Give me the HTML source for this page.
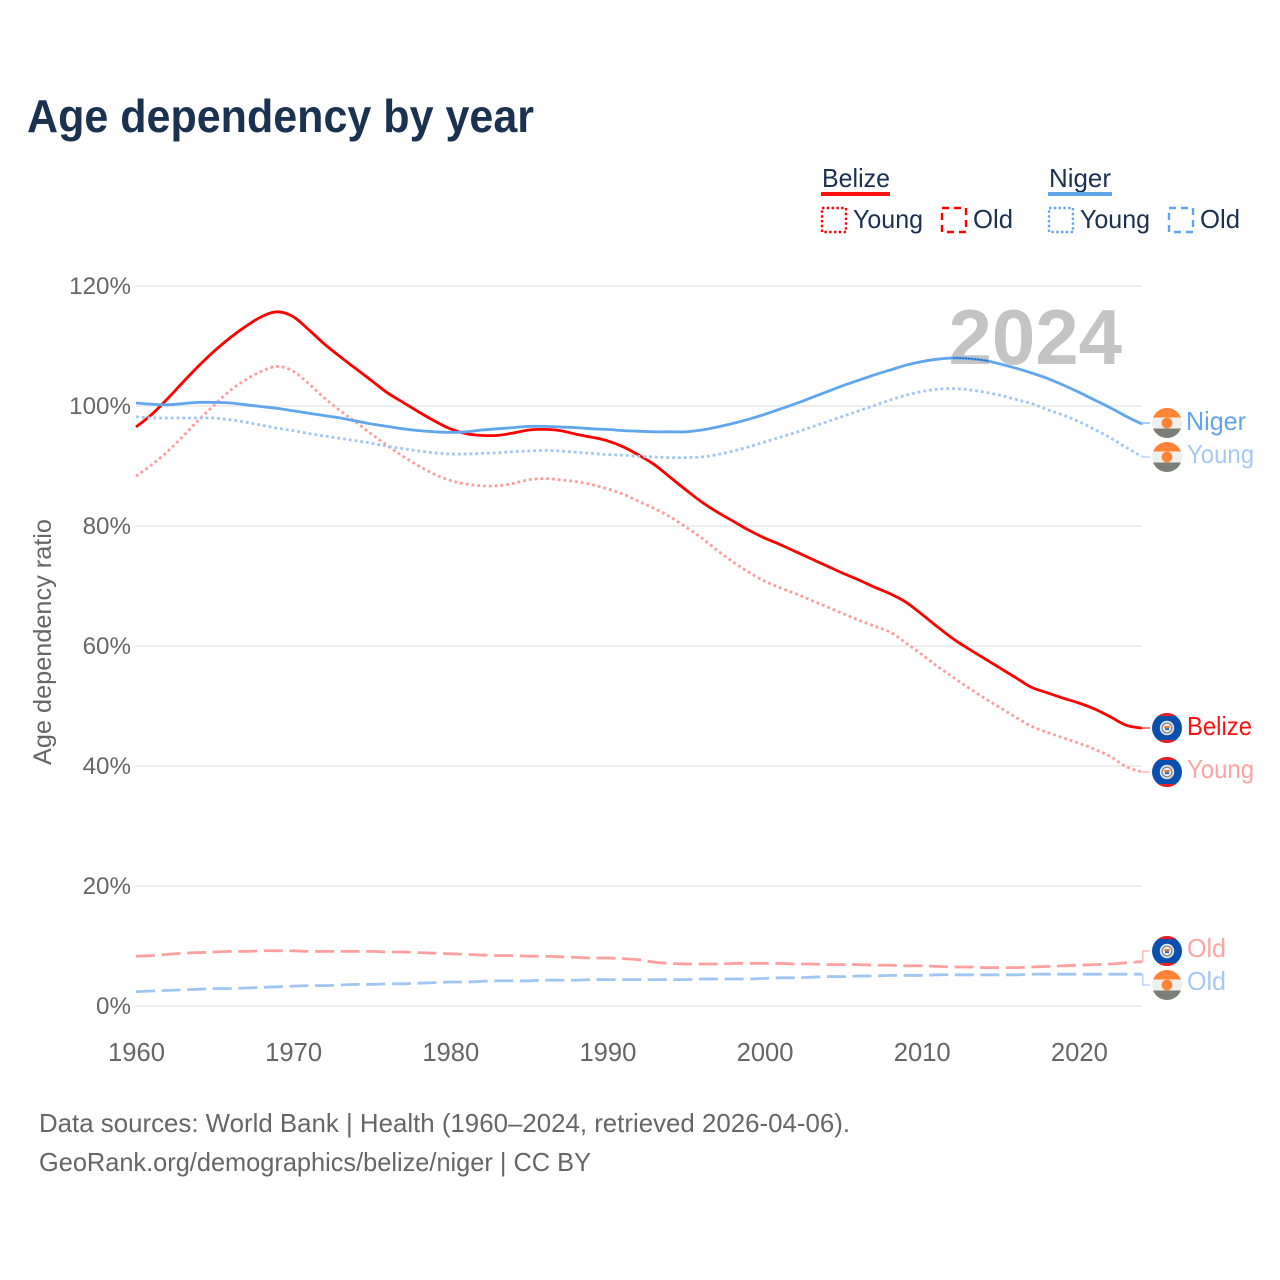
<!DOCTYPE html>
<html lang="en">
<head>
<meta charset="utf-8">
<title>Age dependency by year</title>
<style>
html,body{margin:0;padding:0;background:#fff;width:1280px;height:1280px;overflow:hidden}
svg{display:block}
text{font-family:"Liberation Sans",sans-serif}
</style>
</head>
<body>
<svg id="chart" xmlns="http://www.w3.org/2000/svg" width="1280" height="1280" viewBox="0 0 1280 1280">
  <defs>
    <clipPath id="flag-clip"><circle cx="0" cy="0" r="15"/></clipPath>
    <clipPath id="year-overlap-clip"><rect x="953" y="340" width="35" height="30"/></clipPath>
    <g id="flag-niger">
      <g clip-path="url(#flag-clip)">
        <rect x="-15" y="-15" width="30" height="30" fill="#f0f0f0"/>
        <rect x="-15" y="-15" width="30" height="9.5" fill="#ff8436"/>
        <rect x="-15" y="5.5" width="30" height="10" fill="#7c7f78"/>
        <circle cx="0" cy="0" r="5.4" fill="#ff8436"/>
      </g>
    </g>
    <g id="flag-belize">
      <g clip-path="url(#flag-clip)">
        <rect x="-15" y="-15" width="30" height="30" fill="#0b50ae"/>
        <rect x="-15" y="-15" width="30" height="3" fill="#f01c24"/>
        <rect x="-15" y="12" width="30" height="3" fill="#f01c24"/>
        <circle cx="0" cy="0" r="7.2" fill="#e4e6e8"/>
        <circle cx="0" cy="0" r="5.6" fill="#8d9296"/>
        <circle cx="0" cy="0" r="4" fill="#ffffff"/>
        <rect x="-2.8" y="-2.2" width="5.6" height="2.4" fill="#e8803a"/>
        <rect x="-2" y="0.2" width="4" height="2" fill="#2a62b8"/>
      </g>
    </g>
  </defs>

  <text x="27" y="132" font-size="46" font-weight="700" fill="#1a3150" textLength="507" lengthAdjust="spacingAndGlyphs">Age dependency by year</text>

  <g id="legend" font-size="26" fill="#1a3150">
    <text x="822" y="187" textLength="68" lengthAdjust="spacingAndGlyphs">Belize</text>
    <rect x="821" y="192" width="69" height="4" fill="#ff1111"/>
    <rect x="822" y="208" width="24" height="24" fill="none" stroke="#ff0000" stroke-width="2.4" stroke-dasharray="2.4 2.4"/>
    <text x="853" y="228" textLength="70" lengthAdjust="spacingAndGlyphs">Young</text>
    <rect x="942" y="208" width="24" height="24" fill="none" stroke="#ff0000" stroke-width="2.4" stroke-dasharray="7 5"/>
    <text x="973" y="228" textLength="40" lengthAdjust="spacingAndGlyphs">Old</text>
    <text x="1049" y="187" textLength="62" lengthAdjust="spacingAndGlyphs">Niger</text>
    <rect x="1048" y="192" width="64" height="4" fill="#61a5ec"/>
    <rect x="1049" y="208" width="24" height="24" fill="none" stroke="#61a5ec" stroke-width="2.4" stroke-dasharray="2.4 2.4"/>
    <text x="1080" y="228" textLength="70" lengthAdjust="spacingAndGlyphs">Young</text>
    <rect x="1169" y="208" width="24" height="24" fill="none" stroke="#61a5ec" stroke-width="2.4" stroke-dasharray="7 5"/>
    <text x="1200" y="228" textLength="40" lengthAdjust="spacingAndGlyphs">Old</text>
  </g>

  <g id="grid"></g>
  <g id="y-ticks"></g>
  <g id="x-ticks"></g>

  <text transform="translate(51,765) rotate(-90)" font-size="25" fill="#666666" textLength="246" lengthAdjust="spacingAndGlyphs">Age dependency ratio</text>

  <text x="1122" y="364" text-anchor="end" font-size="78" font-weight="700" fill="#c4c4c4">2024</text>

  <g id="series"></g>

  <g>
    <use href="#flag-niger" x="1167" y="423"/>
    <use href="#flag-niger" x="1167" y="457"/>
    <use href="#flag-belize" x="1167" y="728"/>
    <use href="#flag-belize" x="1167" y="772"/>
    <use href="#flag-belize" x="1167" y="951"/>
    <use href="#flag-niger" x="1167" y="985"/>
    <text x="1186" y="430" font-size="26" fill="#61a5ec" textLength="60" lengthAdjust="spacingAndGlyphs">Niger</text>
    <text x="1187" y="463" font-size="26" fill="#a5c9f3" textLength="67" lengthAdjust="spacingAndGlyphs">Young</text>
    <text x="1187" y="735" font-size="26" fill="#ff1111" textLength="65" lengthAdjust="spacingAndGlyphs">Belize</text>
    <text x="1187" y="778" font-size="26" fill="#ffa3a3" textLength="67" lengthAdjust="spacingAndGlyphs">Young</text>
    <text x="1187" y="957" font-size="26" fill="#ffa3a3" textLength="39" lengthAdjust="spacingAndGlyphs">Old</text>
    <text x="1187" y="990" font-size="26" fill="#a5c9f3" textLength="39" lengthAdjust="spacingAndGlyphs">Old</text>
  </g>

  <text x="39" y="1132" font-size="26" fill="#666666" textLength="811" lengthAdjust="spacingAndGlyphs">Data sources: World Bank | Health (1960–2024, retrieved 2026-04-06).</text>
  <text x="39" y="1171" font-size="26" fill="#666666" textLength="552" lengthAdjust="spacingAndGlyphs">GeoRank.org/demographics/belize/niger | CC BY</text>
</svg>

<script>
const firstYear = 1960;
const yTickValues = [0, 20, 40, 60, 80, 100, 120];
const xTickValues = [1960, 1970, 1980, 1990, 2000, 2010, 2020];

const belizeTotal = [96.5,98.6,101.2,104,106.7,109.2,111.4,113.3,114.9,115.7,114.9,112.7,110.3,108.2,106.2,104.2,102.2,100.6,99,97.5,96.2,95.4,95.1,95.1,95.5,96,96.1,95.9,95.3,94.8,94.2,93.2,91.8,90.2,88.1,86,84,82.3,80.8,79.3,78,76.9,75.7,74.5,73.3,72.1,71,69.8,68.7,67.3,65.3,63.2,61.2,59.5,57.9,56.3,54.7,53.1,52.2,51.3,50.5,49.5,48.2,46.8,46.3];
const belizeYoung = [88.3,90.2,92.4,95,97.7,100.2,102.6,104.4,105.8,106.6,105.8,103.7,101.3,99.2,97.3,95.3,93.4,91.6,90,88.6,87.6,87,86.7,86.7,87.1,87.7,87.9,87.7,87.4,86.9,86.2,85.3,84.1,82.9,81.5,79.8,78,75.9,74,72.3,70.8,69.7,68.7,67.6,66.5,65.4,64.3,63.3,62.3,60.5,58.6,56.6,54.8,53,51.3,49.7,48.1,46.6,45.6,44.7,43.8,42.8,41.6,39.9,39];
const belizeOld = [8.3,8.4,8.6,8.8,8.9,9,9.1,9.1,9.2,9.2,9.2,9.1,9.1,9.1,9.1,9.1,9,9,8.9,8.8,8.7,8.6,8.5,8.4,8.4,8.3,8.3,8.2,8.1,8,8,7.9,7.7,7.3,7.1,7,7,7,7.1,7.1,7.1,7.1,7,7,6.9,6.9,6.9,6.8,6.8,6.7,6.7,6.6,6.5,6.5,6.4,6.4,6.4,6.5,6.6,6.7,6.8,6.9,7,7.2,7.4];
const nigerTotal = [100.5,100.3,100.2,100.4,100.6,100.6,100.5,100.2,99.9,99.6,99.2,98.8,98.4,98,97.5,97,96.6,96.2,95.9,95.7,95.6,95.7,96,96.2,96.4,96.6,96.6,96.5,96.4,96.2,96.1,95.9,95.8,95.7,95.7,95.7,96,96.5,97.1,97.8,98.6,99.5,100.4,101.4,102.4,103.4,104.3,105.2,106,106.8,107.4,107.8,108,107.9,107.6,107,106.3,105.5,104.6,103.5,102.3,101,99.7,98.3,97];
const nigerYoung = [98.2,98,98,98,98,98,97.7,97.3,96.8,96.3,95.9,95.4,95,94.6,94.2,93.8,93.3,92.9,92.5,92.2,92,92,92.1,92.2,92.4,92.5,92.6,92.5,92.3,92.1,91.9,91.8,91.6,91.5,91.4,91.4,91.5,91.9,92.5,93.2,94,94.8,95.6,96.5,97.4,98.3,99.2,100.1,101,101.8,102.4,102.8,102.9,102.7,102.3,101.8,101.1,100.4,99.4,98.5,97.4,96.1,94.7,93.1,91.6];
const nigerOld = [2.4,2.5,2.6,2.7,2.8,2.9,2.9,3,3.1,3.2,3.3,3.4,3.4,3.5,3.6,3.6,3.7,3.7,3.8,3.9,4,4,4.1,4.2,4.2,4.2,4.3,4.3,4.3,4.4,4.4,4.4,4.4,4.4,4.4,4.4,4.5,4.5,4.5,4.5,4.6,4.7,4.7,4.8,4.9,4.9,5,5,5.1,5.1,5.1,5.2,5.2,5.2,5.2,5.2,5.2,5.3,5.3,5.3,5.3,5.3,5.3,5.3,5.3];

const svgNS = 'http://www.w3.org/2000/svg';
const xScale = year => 136 + (year - 1960) * (1141.7 - 136) / 64;
const yScale = pct => 1006 - pct * 6;
const lastYear = firstYear + belizeTotal.length - 1;

function linePath(values) {
  const pts = values.map((v, i) => [xScale(firstYear + i), yScale(v)]);
  let d = 'M' + pts[0][0].toFixed(2) + ' ' + pts[0][1].toFixed(2);
  for (let i = 0; i < pts.length - 1; i++) {
    const p0 = pts[Math.max(i - 1, 0)];
    const p1 = pts[i];
    const p2 = pts[i + 1];
    const p3 = pts[Math.min(i + 2, pts.length - 1)];
    const c1x = p1[0] + (p2[0] - p0[0]) / 6;
    const c1y = p1[1] + (p2[1] - p0[1]) / 6;
    const c2x = p2[0] - (p3[0] - p1[0]) / 6;
    const c2y = p2[1] - (p3[1] - p1[1]) / 6;
    d += ' C' + c1x.toFixed(2) + ' ' + c1y.toFixed(2) + ' ' + c2x.toFixed(2) + ' ' + c2y.toFixed(2) + ' ' + p2[0].toFixed(2) + ' ' + p2[1].toFixed(2);
  }
  return d;
}

const gridGroup = document.getElementById('grid');
const yTickGroup = document.getElementById('y-ticks');
yTickValues.forEach(v => {
  const g = document.createElementNS(svgNS, 'line');
  
  
  g.setAttribute('x1', xScale(1960));
  g.setAttribute('x2', xScale(lastYear));
  g.setAttribute('y1', yScale(v));
  g.setAttribute('y2', yScale(v));
  g.setAttribute('stroke', '#eeeeee');
  g.setAttribute('stroke-width', '2');
  gridGroup.appendChild(g);
  const t = document.createElementNS(svgNS, 'text');
  
  
  t.setAttribute('x', 131);
  t.setAttribute('y', yScale(v) + 8);
  t.setAttribute('text-anchor', 'end');
  t.setAttribute('font-size', '24.2');
  t.setAttribute('fill', '#666666');
  t.textContent = v + '%';
  yTickGroup.appendChild(t);
});

const xTickGroup = document.getElementById('x-ticks');
xTickValues.forEach(y => {
  const t = document.createElementNS(svgNS, 'text');
  
  
  t.setAttribute('x', xScale(y) + 0.5);
  t.setAttribute('y', 1061);
  t.setAttribute('text-anchor', 'middle');
  t.setAttribute('font-size', '25.6');
  t.setAttribute('fill', '#666666');
  t.textContent = y;
  xTickGroup.appendChild(t);
});

const seriesGroup = document.getElementById('series');
function addSeries(name, values, color, dash, width, labelY) {
  const p = document.createElementNS(svgNS, 'path');
  
  
  p.setAttribute('d', linePath(values));
  p.setAttribute('fill', 'none');
  p.setAttribute('stroke', color);
  p.setAttribute('stroke-width', width);
  p.setAttribute('stroke-linejoin', 'round');
  if (dash) p.setAttribute('stroke-dasharray', dash);
  seriesGroup.appendChild(p);
  const c = document.createElementNS(svgNS, 'path');
  
  
  const endY = yScale(values[values.length - 1]);
  const endX = xScale(lastYear);
  c.setAttribute('d', 'M' + endX + ' ' + endY + ' L' + (endX + 1) + ' ' + endY + ' L' + (endX + 1) + ' ' + labelY + ' L1150 ' + labelY);
  c.setAttribute('fill', 'none');
  c.setAttribute('stroke', color);
  c.setAttribute('stroke-width', '1.5');
  c.setAttribute('opacity', '0.7');
  seriesGroup.appendChild(c);
}

addSeries('belize-old-line', belizeOld, '#ffa0a0', '19 6.6', 2.8, 951);
addSeries('belize-young-line', belizeYoung, '#ff9c9c', '2.8 3', 2.8, 772);
addSeries('belize-total-line', belizeTotal, '#ff0000', '', 2.8, 728);
addSeries('niger-old-line', nigerOld, '#a0c6f2', '19 6.6', 2.8, 985);
addSeries('niger-young-line', nigerYoung, '#a0c6f2', '2.8 3', 2.8, 457);
addSeries('niger-total-line', nigerTotal, '#61a5ec', '', 2.8, 423);

const overlap = document.createElementNS(svgNS, 'path');


overlap.setAttribute('d', linePath(nigerTotal));
overlap.setAttribute('fill', 'none');
overlap.setAttribute('stroke', '#1a5fb0');
overlap.setAttribute('stroke-width', '1.2');
overlap.setAttribute('stroke-dasharray', '2 1');
overlap.setAttribute('clip-path', 'url(#year-overlap-clip)');
seriesGroup.appendChild(overlap);
</script>
</body>
</html>
